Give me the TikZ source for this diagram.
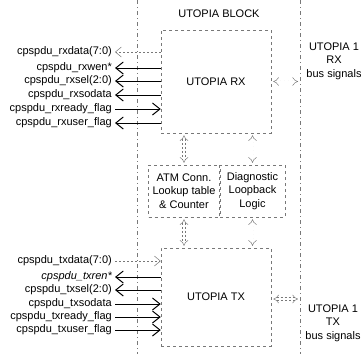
\documentclass[tikz,border=0pt]{standalone}
\usepackage{fontspec}
\setmainfont{Liberation Sans}
\usepackage{tikz}
\usetikzlibrary{positioning,arrows.meta,calc}
\definecolor{linegray}{RGB}{120,120,120}
\tikzset{
  blk/.style   = {draw=linegray, dash pattern=on 3pt off 3pt, line width=0.5pt, align=center, font=\fontsize{11}{13.5}\selectfont, inner sep=2pt},
  bline/.style = {draw=linegray, dash pattern=on 4pt off 3pt on 1pt off 3pt, line width=0.6pt},
  sname/.style = {anchor=east, inner ysep=1pt, inner xsep=3pt, font=\fontsize{11}{12}\selectfont},
  lbl/.style   = {align=center, inner sep=1pt, font=\fontsize{11}{13.5}\selectfont},
  sig/.style   = {line width=1pt, -{Straight Barb[length=7.5pt,width=12pt]}},
  faint/.style = {draw=linegray, line width=0.5pt, dash pattern=on 2pt off 2pt, -{Straight Barb[length=6pt,width=10pt]}},
  dbl/.style   = {draw=linegray, line width=0.45pt, double, double distance=2.6pt, dash pattern=on 2pt off 2pt, {Implies}-{Implies}, shorten >=2pt, shorten <=2pt},
}

\begin{document}
\begin{tikzpicture}[x=1pt,y=-1pt]
  \useasboundingbox (0,0) rectangle (361,354);
  % block boundary
  \draw[bline] (137,0) -- (137,354);
  \draw[bline] (300,0) -- (300,354);
  \node[lbl] (title) at (219,14) {UTOPIA BLOCK};
  \coordinate (rxport) at (300,81.5);
  \coordinate (txport) at (300,299);

  \node[blk, minimum width=110pt, minimum height=103pt] (rx) at (216,81.5) {UTOPIA RX};
  \node[blk, minimum width=71pt, minimum height=52pt] (atm) at (184,191) {ATM Conn.\\Lookup table\\\& Counter};
  \node[blk, minimum width=65pt, minimum height=52pt] (diag) at (252.5,191) {Diagnostic\\Loopback\\Logic};
  \node[blk, minimum width=110pt, minimum height=98pt] (tx) at (216,297) {UTOPIA TX};

  \node[lbl] (rxbus) at (334,61) {UTOPIA 1\\RX\\bus signals};
  \node[lbl] (txbus) at (333,323) {UTOPIA 1\\TX\\bus signals};

  % rx side signals
  \node[sname] (rxd)   at (115,52)  {cpspdu\_rxdata(7:0)};
  \node[sname] (rxwen) at (115,68)  {cpspdu\_rxwen*};
  \node[sname] (rxsel) at (115,81)  {cpspdu\_rxsel(2:0)};
  \node[sname] (rxsod) at (115,95)  {cpspdu\_rxsodata};
  \node[sname] (rxrdy) at (115,109) {cpspdu\_rxready\_flag};
  \node[sname] (rxusr) at (115,123) {cpspdu\_rxuser\_flag};

  \draw[faint] (rxd.east -| rx.west) -- (rxd.east);
  \draw[sig] (rxwen.east -| rx.west) -- (rxwen.east);
  \draw[sig] (rxsel.east -| rx.west) -- (rxsel.east);
  \draw[sig] (rxsod.east -| rx.west) -- (rxsod.east);
  \draw[sig] (rxrdy.east) -- (rxrdy.east -| rx.west);
  \draw[sig] (rxusr.east -| rx.west) -- (rxusr.east);

  % tx side signals
  \node[sname] (txd)   at (115,261) {cpspdu\_txdata(7:0)};
  \node[sname] (txren) at (115,277) {\itshape cpspdu\_txren*};
  \node[sname] (txsel) at (115,290) {cpspdu\_txsel(2:0)};
  \node[sname] (txsod) at (115,304) {cpspdu\_txsodata};
  \node[sname] (txrdy) at (115,317) {cpspdu\_txready\_flag};
  \node[sname] (txusr) at (115,330) {cpspdu\_txuser\_flag};

  \draw[faint] (txd.east) -- (txd.east -| tx.west);
  \draw[sig] (txren.east -| tx.west) -- (txren.east);
  \draw[sig] (txsel.east -| tx.west) -- (txsel.east);
  \draw[sig] (txsod.east) -- (txsod.east -| tx.west);
  \draw[sig] (txrdy.east) -- (txrdy.east -| tx.west);
  \draw[sig] (txusr.east) -- (txusr.east -| tx.west);

  % internal paths
  \draw[dbl] (rx.south -| atm.north) -- (atm.north);
  \draw[dbl] (rx.south -| diag.north) -- (diag.north);
  \draw[dbl] (atm.south) -- (atm.south |- tx.north);
  \draw[dbl] (diag.south) -- (diag.south |- tx.north);
  \draw[dbl] (rx.east) -- (rxport);
  \draw[dbl] (tx.east |- txport) -- (txport);
\end{tikzpicture}
\end{document}
